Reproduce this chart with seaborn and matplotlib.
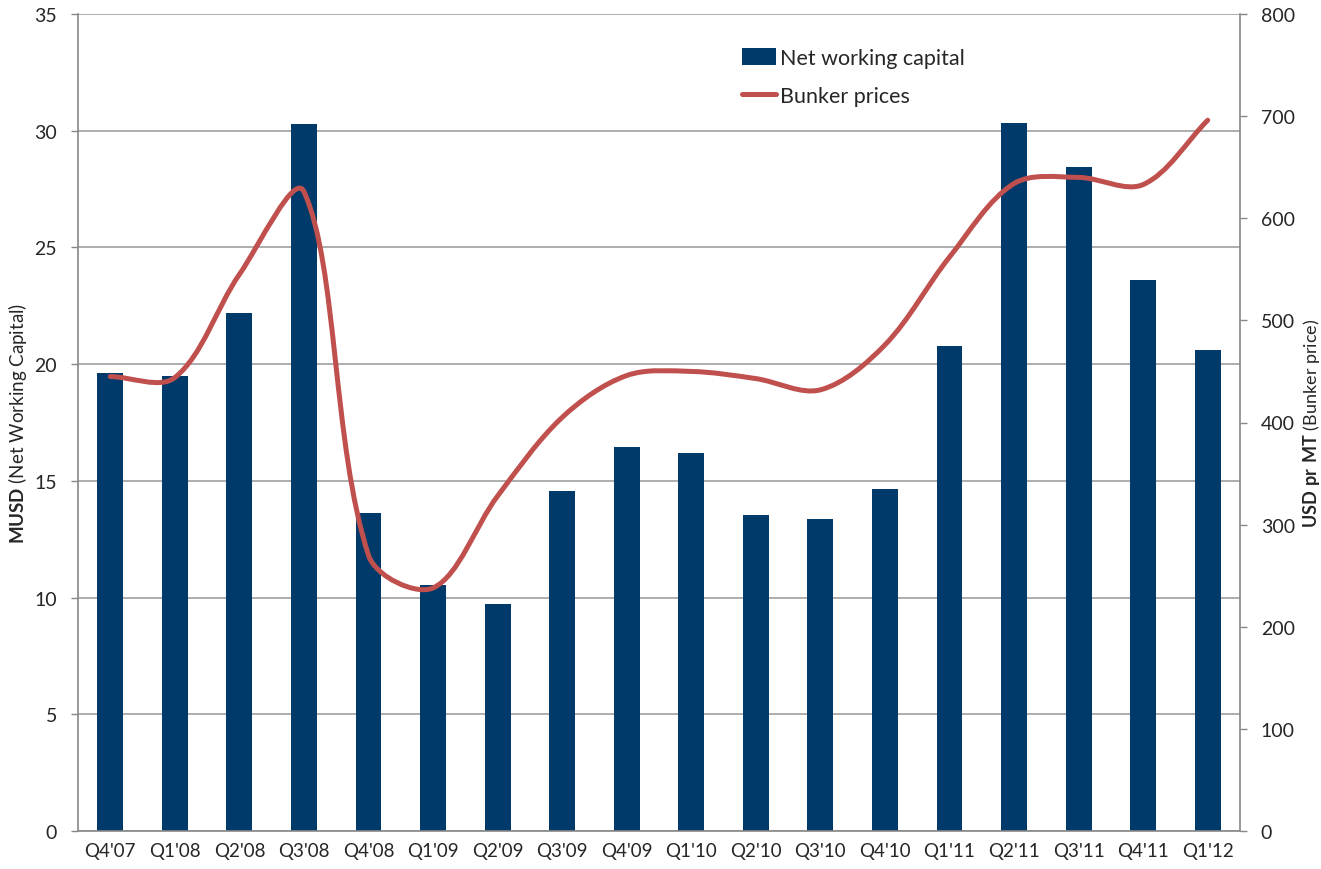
# Net working capital vs bunker prices
import numpy as np
import pandas as pd
import matplotlib
matplotlib.use("Agg")
import matplotlib.pyplot as plt
import seaborn as sns
from matplotlib.path import Path
from matplotlib.patches import PathPatch, Patch
from matplotlib.lines import Line2D

# Data
quarters = ["Q4'07", "Q1'08", "Q2'08", "Q3'08", "Q4'08", "Q1'09", "Q2'09", "Q3'09", "Q4'09",
            "Q1'10", "Q2'10", "Q3'10", "Q4'10", "Q1'11", "Q2'11", "Q3'11", "Q4'11", "Q1'12"]
net_working_capital = [19.62, 19.49, 22.19, 30.29, 13.62, 10.54, 9.73, 14.57, 16.45,
                       16.2, 13.54, 13.37, 14.65, 20.78, 30.33, 28.45, 23.61, 20.6]
bunker_prices = [445, 444, 545, 626, 270, 238, 328, 405, 446,
                 450, 443, 432, 476, 562, 634, 640, 633, 696]

bar_color = "#003A6A"
line_color = "#C0504D"
grid_color = "#A0A0A0"
axis_color = "#888888"

sns.set_style("white")
plt.rcParams["font.family"] = ["Lato", "DejaVu Sans"]
plt.rcParams["mathtext.fontset"] = "custom"
plt.rcParams["mathtext.rm"] = "Lato"
plt.rcParams["mathtext.bf"] = "Lato:bold"

df = pd.DataFrame({"Quarter": quarters, "NWC": net_working_capital, "Bunker": bunker_prices})

fig = plt.figure(figsize=(13.21, 8.70), dpi=100)
ax = fig.add_axes([78 / 1321, 38 / 870, 1162 / 1321, 817 / 870])

sns.barplot(data=df, x="Quarter", y="NWC", color=bar_color, saturation=1,
            width=0.4, linewidth=0, ax=ax)
ax.set_xlim(-0.5, len(quarters) - 0.5)
ax.set_ylim(0, 35)
ax.set_yticks(np.arange(0, 36, 5))
ax.yaxis.grid(True, color=grid_color, lw=1.2)
ax.set_axisbelow(True)

# category boundaries get the tick marks, centres get the labels
ax.set_xticks(np.arange(-0.5, len(quarters), 1))
ax.set_xticklabels([])
ax.set_xticks(np.arange(len(quarters)), minor=True)
ax.set_xticklabels(quarters, minor=True, fontsize=13.5)
ax.tick_params(axis="x", which="major", direction="out", length=5, width=1, color=axis_color)
ax.tick_params(axis="x", which="minor", length=0, pad=8)
ax.tick_params(axis="y", direction="out", length=5, width=1, color=axis_color,
               labelsize=14, pad=10, left=True)
ax.set_xlabel("")
ax.set_ylabel(r"$\bf{MUSD}$ (Net Working Capital)", fontsize=13.5, labelpad=4)

for side in ["top", "right"]:
    ax.spines[side].set_visible(False)
for side in ["left", "bottom"]:
    ax.spines[side].set_color(axis_color)
    ax.spines[side].set_linewidth(1.2)

# secondary axis with the smoothed bunker price line
ax2 = ax.twinx()
ax2.set_ylim(0, 800)
ax2.set_yticks(np.arange(0, 801, 100))
ax2.tick_params(axis="y", direction="out", length=5, width=1, color=axis_color,
                labelsize=14, pad=10, right=True)
ax2.set_ylabel(r"$\bf{USD\ pr\ MT}$ (Bunker price)", fontsize=13, labelpad=4)
ax2.grid(False)
for side in ["top", "left", "bottom"]:
    ax2.spines[side].set_visible(False)
ax2.spines["right"].set_color(axis_color)
ax2.spines["right"].set_linewidth(1.2)

# smoothed line like Excel: bezier with control arms weighted by segment length (in pixels)
pts = np.column_stack([np.arange(len(bunker_prices)), np.array(bunker_prices, float)])
px_scale = np.array([1162 / 18, 817 / 800])
padded = np.vstack([pts[0], pts, pts[-1]])
arm_in, arm_out = [], []
for i in range(len(pts)):
    prev_p, cur, next_p = padded[i], padded[i + 1], padded[i + 2]
    d0 = np.hypot(*((cur - prev_p) * px_scale))
    d1 = np.hypot(*((next_p - cur) * px_scale))
    total = d0 + d1 if d0 + d1 > 0 else 1
    tangent = next_p - prev_p
    arm_in.append(cur - tangent * d0 / total / 3)
    arm_out.append(cur + tangent * d1 / total / 3)
verts = [pts[0]]
codes = [Path.MOVETO]
for i in range(len(pts) - 1):
    verts += [arm_out[i], arm_in[i + 1], pts[i + 1]]
    codes += [Path.CURVE4] * 3
ax2.add_patch(PathPatch(Path(verts, codes), facecolor="none", edgecolor=line_color,
                        lw=3.6, capstyle="round", joinstyle="round"))

handles = [Patch(facecolor=bar_color, edgecolor="none"),
           Line2D([0], [0], color=line_color, lw=3.6, solid_capstyle="round")]
ax2.legend(handles, ["Net working capital", "Bunker prices"], loc="upper left",
           bbox_to_anchor=(742 / 1321, 1 - 49 / 870), bbox_transform=fig.transFigure,
           frameon=False, fontsize=15.5, borderpad=0, borderaxespad=0,
           handlelength=1.6, handleheight=0.8, handletextpad=0.15, labelspacing=0.85)

fig.savefig("out.png", dpi=100)
